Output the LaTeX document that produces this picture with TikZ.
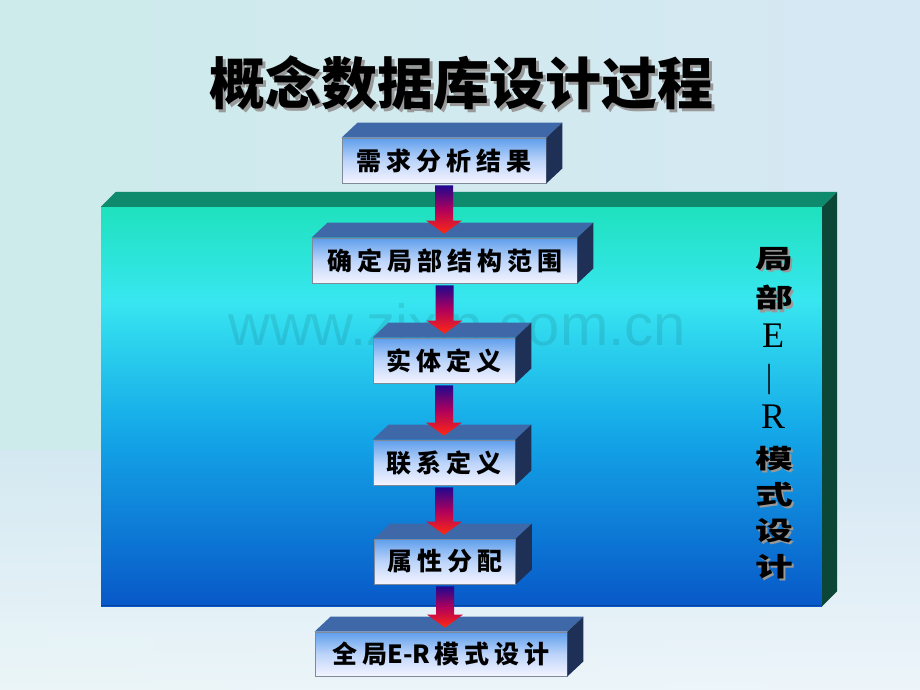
\documentclass[tikz,border=0pt]{standalone}
\usepackage{fontspec}
\usepackage{graphicx}
\newfontfamily\cjk{Noto Sans CJK SC}
\newfontfamily\cjkls{Noto Sans CJK SC}[LetterSpace=20]
\newfontfamily\serifE{Liberation Serif}
\newfontfamily\wmfont{Liberation Sans}
\usetikzlibrary{calc,shadings}
\definecolor{bgL}{HTML}{CDEBEA}
\definecolor{bgR}{HTML}{D6E8F4}
\definecolor{pA}{HTML}{1EE2BE}
\definecolor{pB}{HTML}{38E6F0}
\definecolor{pC}{HTML}{14A8E8}
\definecolor{pD}{HTML}{0858C8}
\definecolor{pTop}{HTML}{0E8A6C}
\definecolor{pSide}{HTML}{0B4636}
\definecolor{fTop}{HTML}{5E9EEC}
\definecolor{fMid}{HTML}{BCD4FA}
\definecolor{fBot}{HTML}{F4F4FF}
\definecolor{fEdge}{HTML}{7E8A9A}
\definecolor{tFace}{HTML}{3E68A8}
\definecolor{sFace}{HTML}{1E3056}
\definecolor{aTop}{HTML}{20088E}
\definecolor{aMid}{HTML}{B0005C}
\definecolor{aBot}{HTML}{FF2A10}
\newcommand{\boxfaces}[1]{%
  \fill[topface] (#1.north west) -- ++(16,-15) -- ([shift={(16pt,15pt)}]#1.north east) -- (#1.north east) -- cycle;
  \fill[sideface] (#1.north east) -- ++(16,-15) -- ([shift={(16pt,15pt)}]#1.south east) -- (#1.south east) -- cycle;}
\newcommand{\flowarr}[2]{%
  \shade[flowarrow] let \p1=(#1.south), \p2=(#2.north) in
   (\x1-9pt,\y1-2pt) -- (\x1+9pt,\y1-2pt) -- (\x1+9pt,\y2+17pt) -- (\x1+18pt,\y2+17pt)
   -- (\x1,\y2+4pt) -- (\x1-18pt,\y2+17pt) -- (\x1-9pt,\y2+17pt) -- cycle;}
% text with a soft drop shadow, in one box
\newcommand{\shadowed}[3]{\makebox[0pt][l]{\hspace{#1}\raisebox{-#1}{\textcolor{#2}{#3}}}#3}
\begin{document}
\begin{tikzpicture}[x=1pt,y=-1pt,
  fbox/.style={shade, top color=fTop, bottom color=fBot, middle color=fMid,
    draw=fEdge, line width=0.8pt, inner sep=0pt, text=black,
    font=\cjkls\bfseries\fontsize{25}{25}\selectfont},
  topface/.style={fill=tFace},
  sideface/.style={fill=sFace},
  flowarrow/.style={top color=aTop, bottom color=aBot, middle color=aMid},
  sidech/.style={inner sep=0pt, text=black, font=\cjk\bfseries\fontsize{26}{26}\selectfont},
  sidelat/.style={inner sep=0pt, text=black, font=\serifE\fontsize{36}{36}\selectfont},
  titletext/.style={inner sep=0pt, text=black, font=\cjk\bfseries\fontsize{56}{56}\selectfont},
]
\useasboundingbox (0,0) rectangle (920,690);
% background
\shade[left color=bgL, right color=bgR] (0,0) rectangle (920,690);
\shade[top color=bgR, bottom color=white!70!bgR, opacity=0.8] (0,450) rectangle (920,690);
% title
\node[titletext] (title) at (461,84) {\shadowed{3pt}{black!40}{概念数据库设计过程}};
% panel
\node[minimum width=721pt, minimum height=399pt, inner sep=0pt] (panel) at (461.5,406.5) {};
\shade[top color=pA, bottom color=pB] (101,207) rectangle (822,301);
\shade[top color=pB, bottom color=pC] (101,300) rectangle (822,431);
\shade[top color=pC, bottom color=pD] (101,430) rectangle (822,606);
\draw[pD!80!black, line width=1pt] (101,605.5) -- (822,605.5);
\fill[pTop] (panel.north west) -- ++(15,-15) -- ([shift={(15pt,15pt)}]panel.north east) -- (panel.north east) -- cycle;
\fill[pSide] (panel.north east) -- ++(15,-15) -- ([shift={(15pt,15pt)}]panel.south east) -- (panel.south east) -- cycle;
% watermark
\node[inner sep=0pt, anchor=base, text=black, opacity=0.09, font=\wmfont\fontsize{58}{58}\selectfont] (wm) at (457,345) {www.zixin.com.cn};
% side text
\foreach \n/\yy/\t in {s1/259/局, s2/298/部, s6/459/模, s7/495/式, s8/531/设, s9/567/计}{
  \node[sidech] (\n) at (774,\yy+1) {\shadowed{2pt}{black!40}{\scalebox{1.45}[1]{\t}}};
}
\node[sidelat] (s3) at (773,336) {E};
\node[sidelat, rotate=90, font=\serifE\fontsize{30}{30}\selectfont] (s4) at (773,379) {—};
\node[sidelat] (s5) at (773,417) {R};
% flow boxes
\node[fbox, minimum width=204pt, minimum height=45pt] (b1) at (444,160.5) {需求分析结果};
\node[fbox, minimum width=265pt, minimum height=45pt] (b2) at (444.5,260.5) {确定局部结构范围};
\node[fbox, minimum width=142pt, minimum height=45pt] (b3) at (444,360.5) {实体定义};
\node[fbox, minimum width=142pt, minimum height=45pt] (b4) at (444,462.5) {联系定义};
\node[fbox, minimum width=141pt, minimum height=45pt] (b5) at (445,561.5) {属性分配};
\node[fbox, minimum width=252pt, minimum height=44pt] (b6) at (441,654) {全局{\cjk\bfseries E-R}\kern4pt 模式设计};
\boxfaces{b1}\boxfaces{b2}\boxfaces{b3}\boxfaces{b4}\boxfaces{b5}\boxfaces{b6}
% arrows
\flowarr{b1}{b2}
\flowarr{b2}{b3}
\flowarr{b3}{b4}
\flowarr{b4}{b5}
\flowarr{b5}{b6}
\end{tikzpicture}
\end{document}
